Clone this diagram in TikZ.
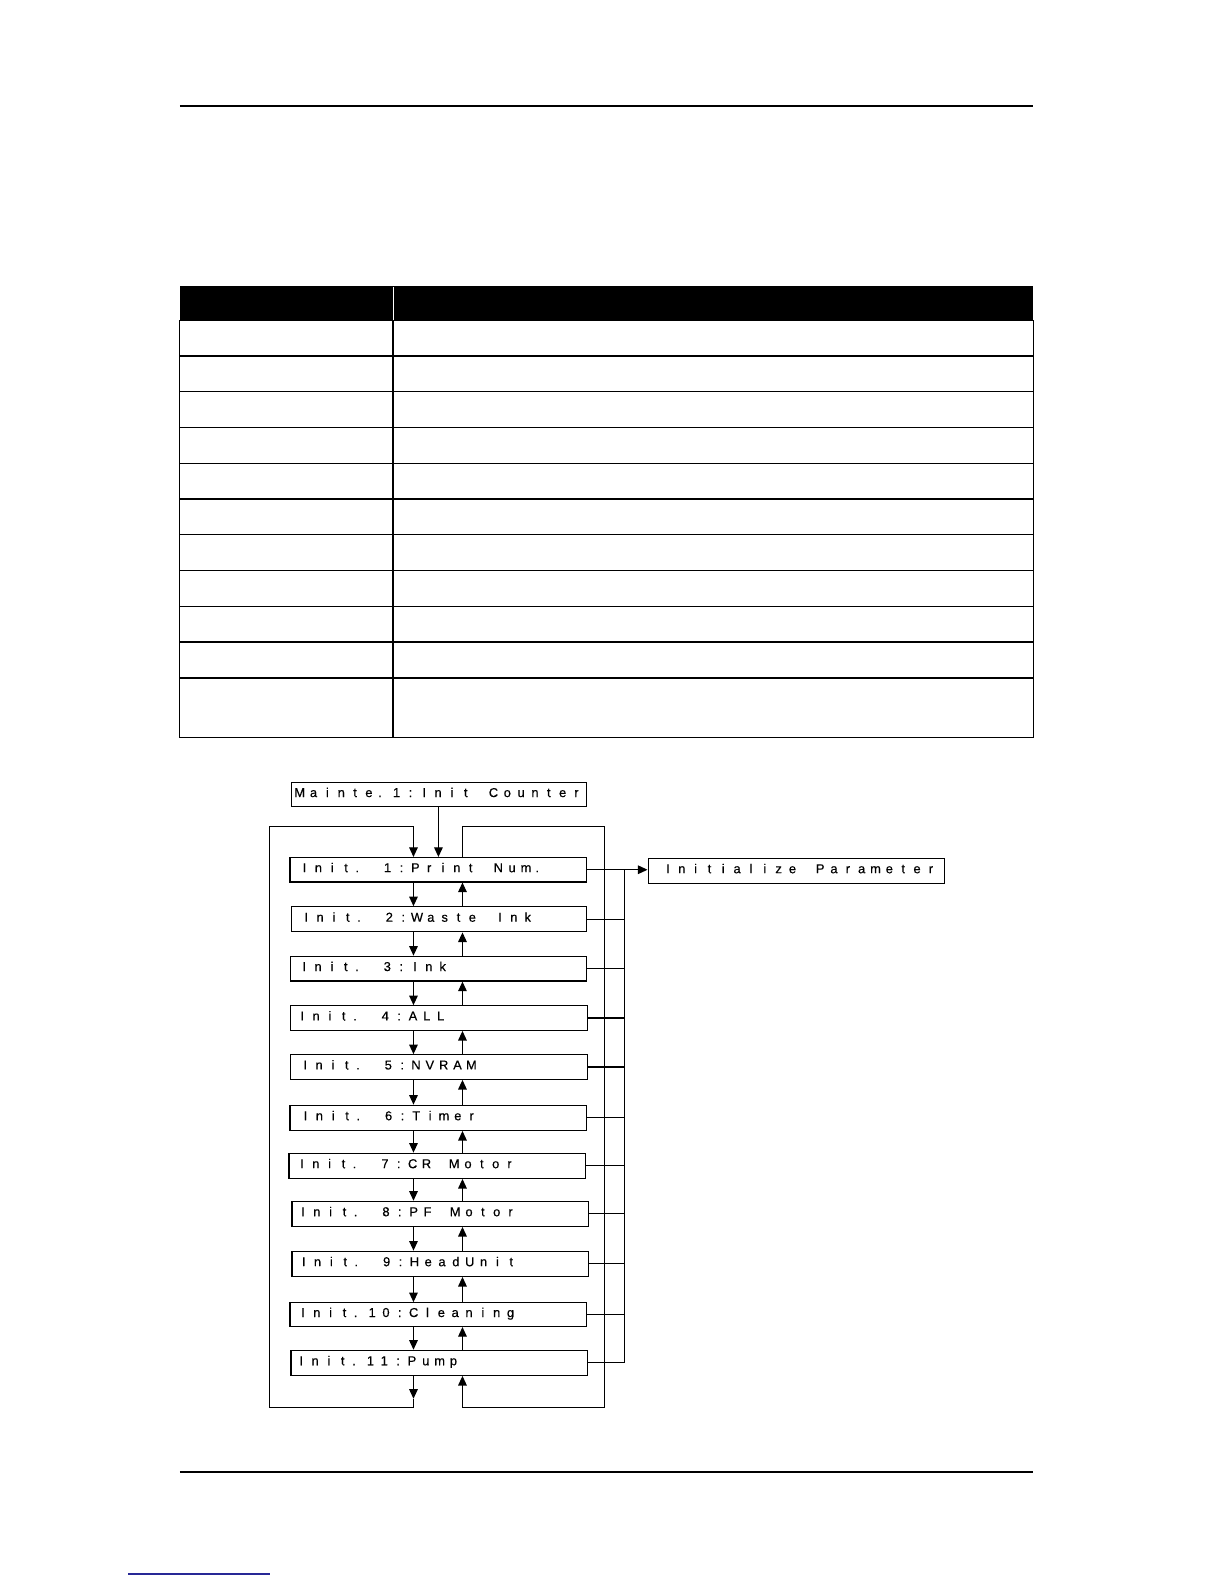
\documentclass[tikz,border=0pt]{standalone}
\usepackage{fontspec}
\setmainfont{Liberation Sans}
\newfontfamily\lcdfont[FakeBold=0.4]{Liberation Sans}
\usetikzlibrary{arrows.meta}

\ExplSyntaxOn
\cs_new_protected:Npn \lcd_char:n #1
  {
    \str_if_eq:nnTF {#1} {.}
      { \makebox[13.7pt][l]{\hspace*{2.4pt}.} }
      { \makebox[13.7pt]{#1} }
  }
\NewDocumentCommand \lcd { m }
  { \str_map_inline:nn {#1} { \lcd_char:n {##1} } }
\ExplSyntaxOff

\tikzset{
  lcdbox/.style={draw, line width=1.2pt, inner sep=0pt, text height=9.2pt, text depth=4.4pt,
    font=\lcdfont\fontsize{12.8pt}{14pt}\selectfont},
  conn/.style={line width=1.2pt},
  arr/.style={line width=1.2pt, -{Triangle[width=8.5pt,length=9.5pt]}},
  tbl/.style={line width=1.3pt},
  rulebar/.style={line width=2.3pt}
}

% name, left, top, right, bottom, text offset, text
\newcommand\mkbox[7]{%
  \node[lcdbox, minimum width={#4-#2}, minimum height={#5-#3}, anchor=north west] (#1) at (#2,#3)
    {\makebox[\dimexpr #4pt-#2pt\relax][l]{\hspace*{#6pt}\lcd{#7}}};}

\begin{document}
\begin{tikzpicture}[x=1pt,y=-1pt]
\useasboundingbox (0,0) rectangle (1212,1568);
\fill[white] (0,0) rectangle (1212,1568);

% page rules
\draw[rulebar] (178,105) -- (1023,105);
\draw[rulebar] (178,1457) -- (1023,1457);
\definecolor{linkblue}{RGB}{40,40,150}
\draw[line width=1.5pt, linkblue] (127,1558) -- (267,1558);

% table
\fill[black] (178,283) rectangle (1023,317.5);
\draw[white, line width=0.8pt] (389,284) -- (389,317);
\draw[tbl] (178,317) rectangle (1023,730);
\draw[tbl] (389,317) -- (389,730);
\foreach \yy in {352.4,387.8,423.2,458.6,494,529.4,564.8,600.2,635.6,671}
  \draw[tbl] (178,\yy) -- (1023,\yy);

% boxes
\mkbox{mt}{287.8}{774}{580.3}{798}{1.45}{Mainte.1:Init Counter}
\mkbox{i1}{286.5}{848.3}{579.6}{872.4}{7.55}{Init. 1:Print Num.}
\mkbox{i2}{287.8}{897}{580.3}{921.8}{7.95}{Init. 2:Waste Ink}
\mkbox{i3}{287}{946}{580}{970.5}{6.75}{Init. 3:Ink}
\mkbox{i4}{287}{995}{581}{1019.3}{4.75}{Init. 4:ALL}
\mkbox{i5}{287}{1043.5}{581}{1067.8}{7.75}{Init. 5:NVRAM}
\mkbox{i6}{286.5}{1093.5}{579.6}{1118.3}{8.55}{Init. 6:Timer}
\mkbox{i7}{285.5}{1141}{578.6}{1165.8}{5.95}{Init. 7:CR Motor}
\mkbox{i8}{288.5}{1188.6}{581.6}{1213.3}{3.95}{Init. 8:PF Motor}
\mkbox{i9}{288.5}{1238}{581.6}{1262.8}{4.65}{Init. 9:HeadUnit}
\mkbox{i10}{286.5}{1289}{579.6}{1312.4}{5.95}{Init.10:Cleaning}
\mkbox{i11}{287.5}{1336.1}{580.6}{1360.8}{3.25}{Init.11:Pump}
\mkbox{ip}{641}{849}{934}{873.7}{12.75}{Initialize Parameter}

% reference columns / rows
\coordinate (xm) at (434,0);
\coordinate (xd) at (409.3,0);
\coordinate (xu) at (457.8,0);
\coordinate (xl) at (266.7,0);
\coordinate (xr) at (598.4,0);
\coordinate (xb) at (618.2,0);
\coordinate (ytop) at (0,818.5);
\coordinate (ybot) at (0,1393.5);
\coordinate (ldn) at (409.3,1384.6);

% entry arrow
\draw[arr] (mt.south -| xm) -- (i1.north -| xm);

% down / up arrows between boxes
\foreach \a/\b in {1/2,2/3,3/4,4/5,5/6,6/7,7/8,8/9,9/10,10/11}{
  \draw[arr] (i\a.south -| xd) -- (i\b.north -| xd);
  \draw[arr] (i\b.north -| xu) -- (i\a.south -| xu);
}

% left loop (11 -> 1)
\draw[arr] (i11.south -| xd) -- (ldn);
\draw[arr] (ldn) -- (xd |- ybot) -- (xl |- ybot) -- (xl |- ytop) -- (xd |- ytop) -- (i1.north -| xd);

% right loop (1 -> 11)
\draw[arr] (i1.north -| xu) -- (xu |- ytop) -- (xr |- ytop) -- (xr |- ybot) -- (xu |- ybot) -- (i11.south -| xu);

% bus to Initialize Parameter
\draw[arr] (i1.east) -- (i1.east -| ip.west);
\foreach \k in {2,...,11}
  \draw[conn] (i\k.east) -- (i\k.east -| xb);
\draw[conn] (i1.east -| xb) -- (i11.east -| xb);
\end{tikzpicture}
\end{document}
